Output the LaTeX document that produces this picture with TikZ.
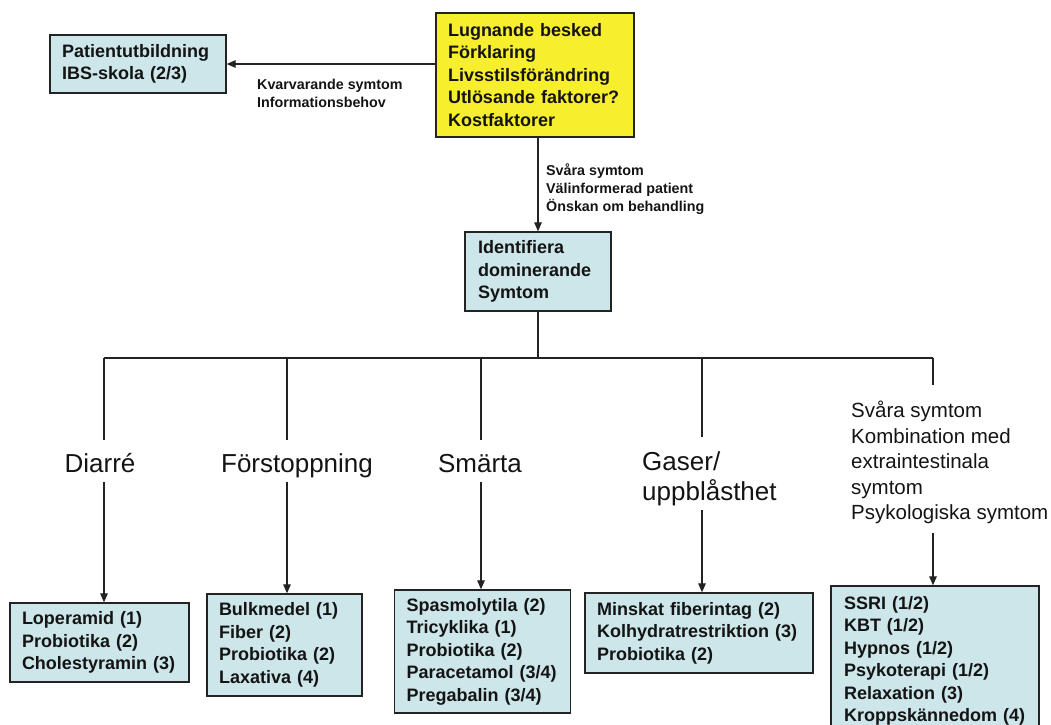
\documentclass[tikz,border=0pt]{standalone}
\usepackage{fontspec}
\setmainfont{Liberation Sans}
\usetikzlibrary{arrows.meta}
\definecolor{boxblue}{RGB}{205,230,234}
\definecolor{boxyellow}{RGB}{247,238,45}
\definecolor{edgecol}{RGB}{35,35,35}
\definecolor{txt}{RGB}{20,20,20}
\begin{document}
\begin{tikzpicture}[x=1pt,y=-1pt,
  box/.style={draw=edgecol, line width=1.4pt, fill=boxblue, inner xsep=12pt, inner ysep=0pt,
              align=left, text=txt, font=\bfseries\fontsize{18}{22.5}\selectfont},
  lab/.style={inner sep=0pt, align=left, text=txt, font=\bfseries\fontsize{14.3}{18}\selectfont},
  big/.style={inner sep=0pt, align=left, text=txt, font=\fontsize{26}{30}\selectfont},
  mid/.style={inner sep=0pt, align=left, text=txt, font=\fontsize{20.5}{25.5}\selectfont},
  conn/.style={line width=1.3pt, draw=edgecol},
  arr/.style={conn, -{Triangle[length=9pt,width=7.5pt]}}]
\useasboundingbox (0,0) rectangle (1051,724);

% top boxes
\node[box, fill=boxyellow, text width=174pt, minimum height=124pt] (yel) at (535,75)
  {Lugnande besked\\Förklaring\\Livsstilsförändring\\Utlösande faktorer?\\Kostfaktorer};
\node[box, text width=152pt, minimum height=58pt] (pat) at (138,64)
  {Patientutbildning\\IBS-skola (2/3)};
\node[box, inner xsep=13pt, text width=120pt, minimum height=79pt] (id) at (538,271.5)
  {Identifiera\\dominerande\\Symtom};

% arrow labels
\node[lab, anchor=west] (kv) at (257,93.4) {Kvarvarande symtom\\Informationsbehov};
\node[lab, anchor=west] (sv) at (546,189.5) {Svåra symtom\\Välinformerad patient\\Önskan om behandling};

% symptom labels
\node[big, anchor=base] (dia) at (100,472) {Diarré};
\node[big, anchor=base] (for) at (297,472) {Förstoppning};
\node[big, anchor=base] (sma) at (480,472) {Smärta};
\node[big, anchor=west] (gas) at (642,479) {Gaser/\\uppblåsthet};
\node[mid, anchor=west] (sev) at (851,462.5) {Svåra symtom\\Kombination med\\extraintestinala\\symtom\\Psykologiska symtom};

% bottom boxes
\node[box, text width=155pt, minimum height=79pt] (b1) at (99.5,642.5)
  {Loperamid (1)\\Probiotika (2)\\Cholestyramin (3)};
\node[box, text width=131pt, minimum height=102pt] (b2) at (284.5,645)
  {Bulkmedel (1)\\Fiber (2)\\Probiotika (2)\\Laxativa (4)};
\node[box, text width=152pt, minimum height=123pt] (b3) at (482.5,651.5)
  {Spasmolytila (2)\\Tricyklika (1)\\Probiotika (2)\\Paracetamol (3/4)\\Pregabalin (3/4)};
\node[box, text width=204pt, minimum height=80pt] (b4) at (699,633)
  {Minskat fiberintag (2)\\Kolhydratrestriktion (3)\\Probiotika (2)};
\node[box, inner xsep=13pt, text width=182pt, minimum height=150pt] (b5) at (935,661)
  {SSRI (1/2)\\KBT (1/2)\\Hypnos (1/2)\\Psykoterapi (1/2)\\Relaxation (3)\\Kroppskännedom (4)};

% top connectors
\draw[arr] (yel.west |- pat.east) -- (pat.east);
\draw[arr] (id.north |- yel.south) -- (id.north);

% bus
\coordinate (jD) at (104,358);
\coordinate (jF) at (287,358);
\coordinate (jS) at (481,358);
\coordinate (jG) at (702,358);
\coordinate (jR) at (933,358);
\coordinate (jM) at (id.south |- jD);
\draw[conn] (jD) -- (jR);
\draw[conn] (id.south) -- (jM);

% branch ends
\coordinate (dT) at (104,440);  \coordinate (dB) at (104,482);
\coordinate (fT) at (287,440);  \coordinate (fB) at (287,482);
\coordinate (sT) at (481,440);  \coordinate (sB) at (481,482);
\coordinate (gT) at (702,437);  \coordinate (gB) at (702,510);
\coordinate (rT) at (933,385);  \coordinate (rB) at (933,533);

\draw[conn] (jD) -- (dT);
\draw[conn] (jF) -- (fT);
\draw[conn] (jS) -- (sT);
\draw[conn] (jG) -- (gT);
\draw[conn] (jR) -- (rT);

\draw[arr] (dB) -- (dB |- b1.north);
\draw[arr] (fB) -- (fB |- b2.north);
\draw[arr] (sB) -- (sB |- b3.north);
\draw[arr] (gB) -- (gB |- b4.north);
\draw[arr] (rB) -- (rB |- b5.north);
\end{tikzpicture}
\end{document}
